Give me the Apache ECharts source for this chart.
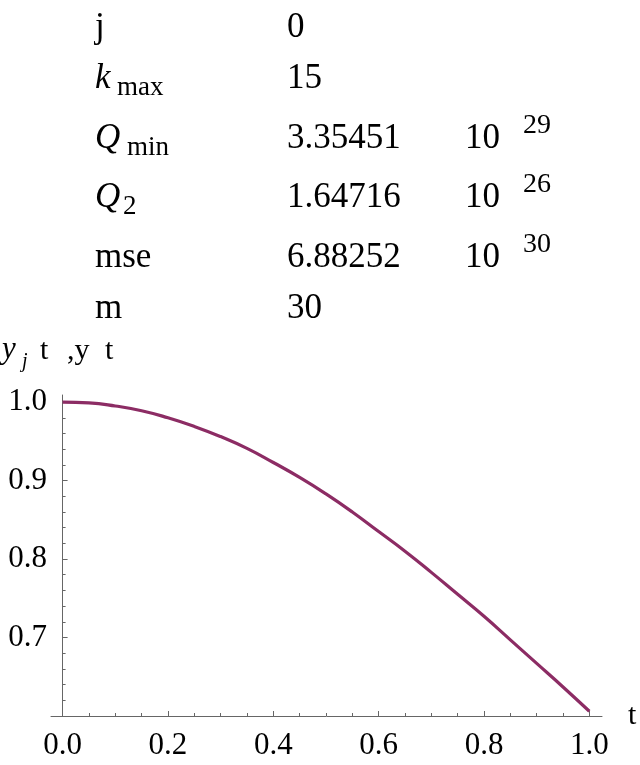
<!DOCTYPE html>
<html>
<head>
<meta charset="utf-8">
<script src="https://cdn.jsdelivr.net/npm/echarts@6/dist/echarts.min.js"></script>
<style>
  html, body { margin: 0; padding: 0; background: #fff; }
  #chart { width: 640px; height: 765px; }
</style>
</head>
<body>
<div id="chart"></div>
<script>
// ---------- data ----------
const tValues = [0, 0.05, 0.1, 0.15, 0.2, 0.25, 0.3, 0.35, 0.4, 0.45, 0.5,
                 0.55, 0.6, 0.65, 0.7, 0.75, 0.8, 0.85, 0.9, 0.95, 1.0];
const yValues = [1.000, 0.999, 0.995, 0.989, 0.980, 0.969, 0.956, 0.941, 0.923, 0.904, 0.883,
                 0.860, 0.835, 0.810, 0.783, 0.755, 0.727, 0.697, 0.667, 0.637, 0.606];

const xMajorTicks = [0, 0.2, 0.4, 0.6, 0.8, 1.0];
const xMinorTicks = [0.05, 0.1, 0.15, 0.25, 0.3, 0.35, 0.45, 0.5, 0.55, 0.65, 0.7, 0.75, 0.85, 0.9, 0.95];
const yMajorTicks = [0.7, 0.8, 0.9, 1.0];
const yMinorTicks = [0.62, 0.64, 0.66, 0.68, 0.72, 0.74, 0.76, 0.78, 0.82, 0.84, 0.86, 0.88,
                     0.92, 0.94, 0.96, 0.98];

const xAxisName = 't';
const yNameMain = 'y';
const yNameSub = 'j';
const yNameRest = ['t', ',y', 't'];

const rowNames = ['j', 'k', 'Q', 'Q', 'mse', 'm'];
const rowNameItalic = [false, true, true, true, false, false];
const rowSubs = ['', 'max', 'min', '2', '', ''];
const rowValues = ['0', '15', '3.35451', '1.64716', '6.88252', '30'];
const rowBase = ['', '', '10', '10', '10', ''];
const rowExponents = ['', '', '29', '26', '30', ''];

// ---------- layout / style ----------
const serif = "'Liberation Serif', 'DejaVu Serif', serif";
const lineColor = '#8c2c64';
const axisColor = '#666';
const mainFs = 35, subFs = 27, supFs = 28, axisFs = 31;
const rowBaselines = [37, 88, 148, 207, 267, 318];
const subX = [0, 117, 127, 123, 0, 0];
const labelX = 95, valueX = 287, baseX = 465, expX = 523;
const mid = (baseline, fs) => baseline - 0.27 * fs;

function txt(text, x, baseline, fs, italic) {
  return {
    type: 'text', x: x, y: mid(baseline, fs), silent: true,
    style: {
      text: text, fill: '#000', fontFamily: serif, fontSize: fs,
      fontStyle: italic ? 'italic' : 'normal',
      align: 'left', verticalAlign: 'middle'
    }
  };
}

const graphics = [];
rowNames.forEach((name, i) => {
  const b = rowBaselines[i];
  graphics.push(txt(name, labelX, b, mainFs, rowNameItalic[i]));
  if (rowSubs[i]) graphics.push(txt(rowSubs[i], subX[i], b + 7, subFs, false));
  graphics.push(txt(rowValues[i], valueX, b, mainFs, false));
  if (rowBase[i]) graphics.push(txt(rowBase[i], baseX, b, mainFs, false));
  if (rowExponents[i]) graphics.push(txt(rowExponents[i], expX, b - 15, supFs, false));
});
// y-axis name
graphics.push(txt(yNameMain, 2, 358, 31, true));
graphics.push(txt(yNameSub, 22, 367, 20, true));
graphics.push(txt(yNameRest[0], 40, 359, 30, false));
graphics.push(txt(yNameRest[1], 67, 359, 30, false));
graphics.push(txt(yNameRest[2], 105, 359, 30, false));

const xMin = -0.022, xMax = 1.024, yMin = 0.6, yMax = 1.009;

const chart = echarts.init(document.getElementById('chart'), null, { renderer: 'canvas' });
chart.setOption({
  animation: false,
  backgroundColor: '#fff',
  grid: { left: 51, right: 38, top: 395, bottom: 49, containLabel: false },
  xAxis: [
    {
      type: 'value', position: 'bottom', min: xMin, max: xMax,
      name: xAxisName, nameLocation: 'end', nameGap: 26,
      nameTextStyle: { fontFamily: serif, fontSize: 30, color: '#000' },
      axisLine: { show: true, onZero: false, lineStyle: { color: axisColor, width: 1 } },
      axisTick: { show: true, inside: true, length: 5, customValues: xMajorTicks,
                  lineStyle: { color: axisColor, width: 1 } },
      axisLabel: { show: true, customValues: xMajorTicks, margin: 14,
                   fontFamily: serif, fontSize: axisFs, color: '#000',
                   formatter: v => v.toFixed(1) },
      splitLine: { show: false }
    },
    {
      type: 'value', position: 'bottom', min: xMin, max: xMax,
      axisLine: { show: false, onZero: false },
      axisTick: { show: true, inside: true, length: 3, customValues: xMinorTicks,
                  lineStyle: { color: axisColor, width: 1 } },
      axisLabel: { show: false },
      splitLine: { show: false }
    }
  ],
  yAxis: [
    {
      type: 'value', position: 'left', min: yMin, max: yMax,
      axisLine: { show: true, onZero: true, lineStyle: { color: axisColor, width: 1 } },
      axisTick: { show: true, inside: true, length: 5, customValues: yMajorTicks,
                  lineStyle: { color: axisColor, width: 1 } },
      axisLabel: { show: true, customValues: yMajorTicks, margin: 4,
                   fontFamily: serif, fontSize: axisFs, color: '#000',
                   formatter: v => v.toFixed(1) },
      splitLine: { show: false }
    },
    {
      type: 'value', position: 'left', min: yMin, max: yMax,
      axisLine: { show: false, onZero: true },
      axisTick: { show: true, inside: true, length: 3, customValues: yMinorTicks,
                  lineStyle: { color: axisColor, width: 1 } },
      axisLabel: { show: false },
      splitLine: { show: false }
    }
  ],
  series: [
    {
      type: 'line', xAxisIndex: 0, yAxisIndex: 0,
      data: tValues.map((t, i) => [t, yValues[i]]),
      showSymbol: false, smooth: true,
      lineStyle: { color: lineColor, width: 3.2 },
      itemStyle: { color: lineColor }
    }
  ],
  graphic: graphics
});
</script>
</body>
</html>
